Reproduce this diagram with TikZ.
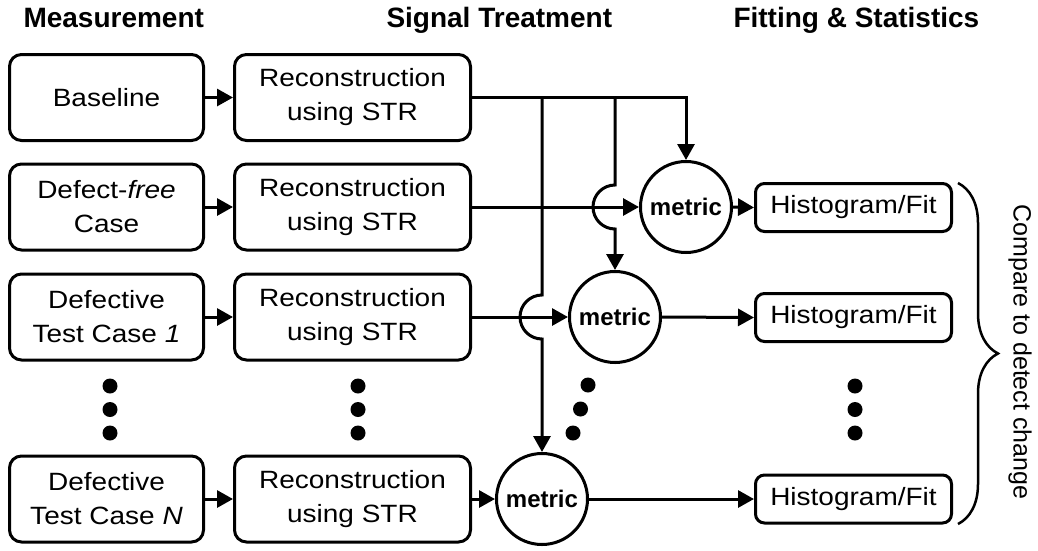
\documentclass[tikz,border=0pt]{standalone}
\usepackage{fontspec}
\setmainfont{Liberation Sans}[FakeStretch=1.12]
\newfontfamily\plainsans{Liberation Sans}
\usetikzlibrary{arrows.meta,decorations.pathreplacing}
\newcommand\myBody{\fontsize{25}{34}\selectfont}
\begin{document}
\begin{tikzpicture}[x=1pt,y=-1pt,
  line width=3pt,
  basebox/.style={draw,line width=3pt,rounded corners=12pt,align=center,inner sep=0pt,font=\myBody},
  inbox/.style={basebox,minimum width=194pt,minimum height=86pt},
  recbox/.style={basebox,minimum width=236pt,minimum height=86pt},
  histbox/.style={basebox,rounded corners=9pt,minimum width=196pt,minimum height=48pt},
  metricnode/.style={draw,circle,line width=3pt,minimum size=91pt,inner sep=0pt,font=\plainsans\bfseries\fontsize{24}{28}\selectfont},
  header/.style={anchor=base west,inner sep=0pt,font=\plainsans\bfseries\fontsize{28}{34}\selectfont},
  dotnode/.style={fill,circle,minimum size=15pt,inner sep=0pt},
  arr/.style={-{Triangle[length=16pt,width=17pt]}}
]
\useasboundingbox (0,0) rectangle (1038,550);

% headers
\node[header] (t1) at (22,27) {Measurement};
\node[header] (t2) at (385,27) {Signal Treatment};
\node[header] (t3) at (732,27) {Fitting \& Statistics};

% column 1
\node[inbox] (a1) at (106.5,97.5) {Baseline};
\node[inbox] (a2) at (106.5,207) {Defect-\textit{free}\\Case};
\node[inbox] (a3) at (106.5,317) {Defective\\Test Case \textit{1}};
\node[inbox] (a4) at (106.5,499) {Defective\\Test Case \textit{N}};

% column 2
\node[recbox] (b1) at (352.5,97.5) {Reconstruction\\using STR};
\node[recbox] (b2) at (352.5,207) {Reconstruction\\using STR};
\node[recbox] (b3) at (352.5,317) {Reconstruction\\using STR};
\node[recbox] (b4) at (352.5,499) {Reconstruction\\using STR};

% metrics
\node[metricnode] (m1) at (686,207) {metric};
\node[metricnode] (m2) at (615,317) {metric};
\node[metricnode] (m3) at (542,499) {metric};

% histograms
\node[histbox] (h1) at (853.5,207.5) {Histogram/Fit};
\node[histbox] (h2) at (853.5,317.5) {Histogram/Fit};
\node[histbox] (h3) at (853.5,499) {Histogram/Fit};

% dots
\node[dotnode] (d11) at (110,386) {};
\node[dotnode] (d12) at (110,409.5) {};
\node[dotnode] (d13) at (110,433) {};
\node[dotnode] (d21) at (358,386) {};
\node[dotnode] (d22) at (358,409.5) {};
\node[dotnode] (d23) at (358,433) {};
\node[dotnode] (d31) at (588,385) {};
\node[dotnode] (d32) at (580.5,409) {};
\node[dotnode] (d33) at (573,433) {};
\node[dotnode] (d41) at (855,386) {};
\node[dotnode] (d42) at (855,409.5) {};
\node[dotnode] (d43) at (855,433) {};

% col1 -> col2
\foreach \i in {1,2,3,4} \draw[arr] (a\i.east) -- (b\i.west);

% row connectors
\draw[arr] (b1.east) -| (m1.north);
\draw[arr] (b2.east) -- (m1.west);
\draw[arr] (b3.east) -- (m2.west);
\draw[arr] (b4.east) -- (m3.west);

\coordinate (jA) at (542,97.5);
\coordinate (jB) at (615,97.5);
\draw[arr] (jB) -- (615,185) arc[start angle=270,end angle=90,radius=22] -- (m2.north);
\draw[arr] (jA) -- (542,295) arc[start angle=270,end angle=90,radius=22] -- (m3.north);

% metric -> histogram
\draw[arr] (m1.east) -- (h1.west);
\draw[arr] (m2.east) -- (h2.west);
\draw[arr] (m3.east) -- (h3.west);

% brace
\draw[line width=2.5pt,decorate,decoration={brace,amplitude=40pt}] (958,183) -- (958,524);
\node[rotate=-90,font=\plainsans\fontsize{25}{30}\selectfont] (cmp) at (1020,352) {Compare to detect change};
\end{tikzpicture}
\end{document}
